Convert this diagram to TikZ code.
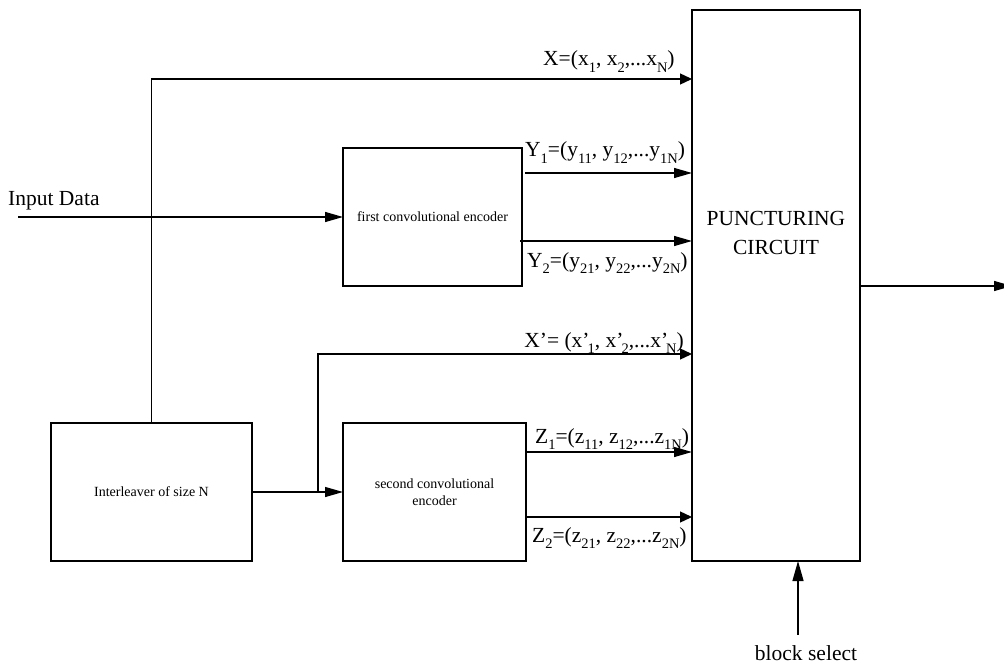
\documentclass[tikz,border=0pt]{standalone}
\usepackage{fontspec}
\setmainfont{Liberation Serif}
\usetikzlibrary{arrows.meta,calc}
% lowered index in the style of the signal names
\newcommand\idx[1]{\raisebox{-6.5pt}{\fontsize{14.5}{14.5}\selectfont #1}}
\begin{document}
\begin{tikzpicture}[x=1pt,y=-1pt,
  box/.style={draw, line width=1.3pt, outer sep=0pt, inner sep=0pt},
  big/.style={font=\fontsize{21.5}{29}\selectfont},
  small/.style={font=\fontsize{14}{17}\selectfont},
  lbl/.style={big, anchor=base west, inner sep=0pt},
  wire/.style={line width=1.3pt},
  longtip/.style={-{Triangle[length=18pt,width=10pt]}},
  shorttip/.style={-{Triangle[length=12pt,width=11pt]}},
]
\useasboundingbox (0,0) rectangle (1004,666);

% blocks
\node[box, minimum width=168pt, minimum height=551pt] (pc) at (776,285.5) {};
\node[big, align=center, inner sep=0pt] (pctext) at (776,233) {PUNCTURING\\CIRCUIT};
\node[box, small, minimum width=179pt, minimum height=138pt] (enc1) at (432.5,217) {first convolutional encoder};
\node[box, small, align=center, minimum width=183pt, minimum height=138pt] (enc2) at (434.5,492) {second convolutional\\encoder};
\node[box, small, minimum width=201pt, minimum height=138pt] (inter) at (151.5,492) {Interleaver of size N};

% signal labels
\node[lbl] (inlbl) at (8,205) {Input Data};
\node[lbl] (lx)  at (543,66)  {X=(x\idx{1}, x\idx{2},...x\idx{N})};
\node[lbl] (ly1) at (525,157) {Y\idx{1}=(y\idx{11}, y\idx{12},...y\idx{1N})};
\node[lbl] (ly2) at (527,267) {Y\idx{2}=(y\idx{21}, y\idx{22},...y\idx{2N})};
\node[big, anchor=base east, inner sep=0pt] (lxp) at (684,347)
  {X’= (x’\kern-2pt\idx{1}, x’\kern-2pt\idx{2},...x’\kern-2pt\idx{N})};
\node[lbl] (lz1) at (535,443) {Z\idx{1}=(z\idx{11}, z\idx{12},...z\idx{1N})};
\node[lbl] (lz2) at (532,542) {Z\idx{2}=(z\idx{21}, z\idx{22},...z\idx{2N})};
\node[big, anchor=base, inner sep=0pt] (bsel) at (806,660) {block select};

% free ends and branch point
\coordinate (din) at (18,217);
\coordinate (split) at (318,492);
\coordinate (dout) at (1012,286);
\coordinate (bsin) at (798,635);

% connectors
\draw[wire,longtip] (din) -- (enc1.west);
\draw[wire,shorttip] (inter.north) |- (pc.west |- 0,79);
\draw[wire,longtip] ($(enc1.east |- 0,173)+(3,0)$) -- (pc.west |- 0,173);
\draw[wire,longtip] ($(enc1.east |- 0,241)+(-2,0)$) -- (pc.west |- 0,241);
\draw[wire,longtip] (inter.east) -- (enc2.west);
\draw[wire,shorttip] (split) |- (pc.west |- 0,354);
\draw[wire,longtip] (enc2.east |- 0,452) -- (pc.west |- 0,452);
\draw[wire,shorttip] (enc2.east |- 0,517) -- (pc.west |- 0,517);
\draw[wire,longtip] (pc.east |- 0,286) -- (dout);
\draw[wire,{Triangle[length=20pt,width=11pt]}-] (pc.south -| bsin) -- (bsin);
\end{tikzpicture}
\end{document}
